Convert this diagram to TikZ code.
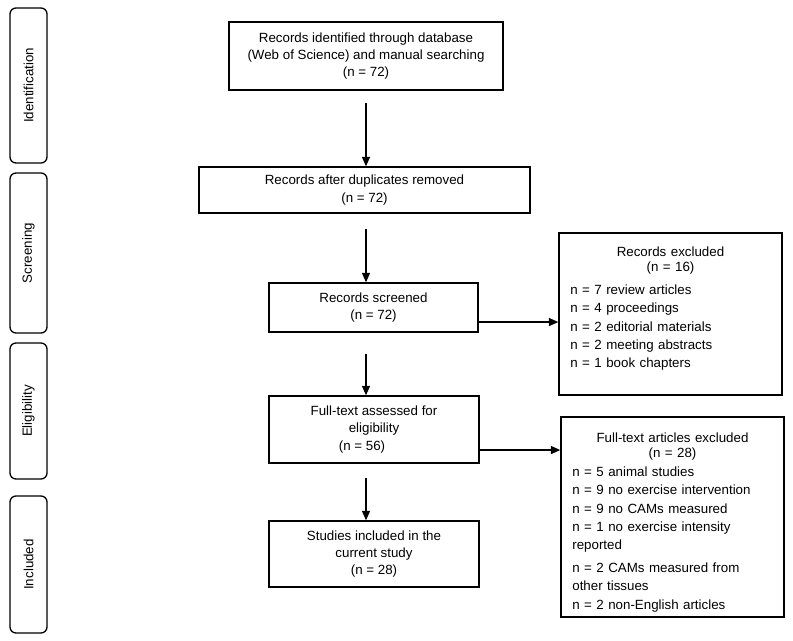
\documentclass[tikz,border=0pt]{standalone}
\usepackage{fontspec}
\setmainfont{Liberation Sans}
\usetikzlibrary{arrows.meta}
\begin{document}
\begin{tikzpicture}[x=0.75pt,y=-0.75pt]
  \useasboundingbox (0,0) rectangle (793,640);
  \begin{scope}[every node/.style={draw,line width=1pt,rounded corners=4.5pt,rotate=90,inner sep=0pt,minimum height=27.75pt,font=\fontsize{10}{12}\selectfont}]
  \node[minimum width=116.25pt] (ident) at (28.5,85.5) {Identification};
  \node[minimum width=120pt] (screen) at (28.5,253) {Screening};
  \node[minimum width=102pt] (elig) at (28.5,411) {Eligibility};
  \node[minimum width=102.75pt] (incl) at (28.5,564.5) {Included};
  \end{scope}
  \begin{scope}[every node/.style={draw,line width=1.1pt,align=center,inner sep=2pt,font=\fontsize{10}{13}\selectfont}]
  \node[minimum width=205.5pt,minimum height=51pt] (recid) at (366,56) {Records identified through database\\(Web of Science) and manual searching\\(n = 72)};
  \node[minimum width=248.25pt,minimum height=34.5pt] (recdup) at (364.5,190) {Records after duplicates removed\\(n = 72)};
  \node[minimum width=156.75pt,minimum height=36.75pt] (recscr) at (373.5,307.5) {Records screened\\(n = 72)};
  \node[minimum width=157.5pt,minimum height=50.25pt] (fulltxt) at (374,429.5) {Full-text assessed for\\eligibility\\(n = 56)\hspace*{18pt}};
  \node[minimum width=157.5pt,minimum height=49.5pt] (studies) at (374,554) {Studies included in the\\current study\\(n = 28)};
  \end{scope}
  \begin{scope}[every node/.style={draw,line width=1.1pt,inner xsep=8.5pt,inner ysep=2pt,text width=150.25pt,font=\fontsize{10}{13.8}\selectfont}]
  \node[minimum height=121.5pt] (recexc) at (670.5,314) {{\centering Records excluded\\[-2.5pt](n = 16)\par}\vspace{3pt}
    n = 7 review articles\\
    n = 4 proceedings\\
    n = 2 editorial materials\\
    n = 2 meeting abstracts\\
    n = 1 book chapters\par\vspace{-4pt}\null};
  \node[minimum height=150pt] (fullexc) at (672.5,517) {{\centering\rule{0pt}{15pt}Full-text articles excluded\\[-2pt](n = 28)\par}
    n = 5 animal studies\\
    n = 9 no exercise intervention\\
    n = 9 no CAMs measured\\
    n = 1 no exercise intensity\\
    reported\\[3pt]
    n = 2 CAMs measured from\\
    other tissues\\
    n = 2 non-English articles};
  \end{scope}
  \begin{scope}[every edge/.style={draw=black,line width=1pt,-{Triangle[width=6pt,length=7pt]}}]
  \path (recid.south) edge[shorten <=9pt] (recid.south |- recdup.north);
  \path (recdup.south -| recid.south) edge[shorten <=11.25pt] (recscr.north -| recid.south);
  \path (recscr.south -| recid.south) edge[shorten <=15.75pt] (fulltxt.north -| recid.south);
  \path (fulltxt.south -| recid.south) edge[shorten <=10.5pt] (studies.north -| recid.south);
  \path ([yshift=-10.9pt]recscr.east) edge ([yshift=-10.9pt]recscr.east -| recexc.west);
  \path ([yshift=-15.4pt]fulltxt.east) edge ([yshift=-15.4pt]fulltxt.east -| fullexc.west);
  \end{scope}
\end{tikzpicture}
\end{document}
